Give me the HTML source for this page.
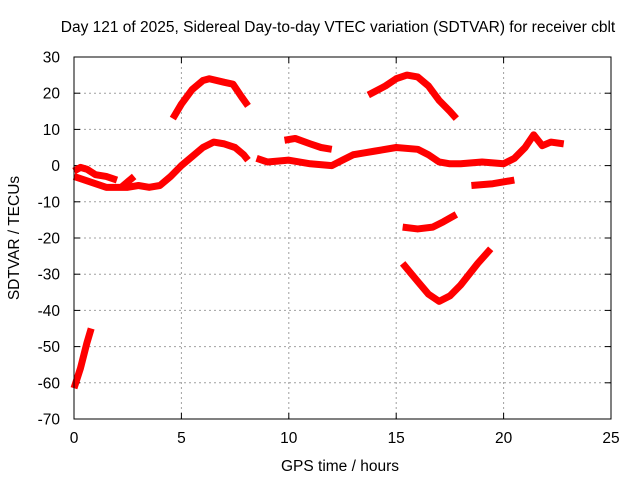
<!DOCTYPE html>
<html><head><meta charset="utf-8"><style>
body{margin:0;background:#fff;}
svg{display:block;font-family:"Liberation Sans",sans-serif;}
</style></head><body>
<svg id="chart" width="640" height="480">
<text x="338" y="32" text-anchor="middle" font-size="15.5">Day 121 of 2025, Sidereal Day-to-day VTEC variation (SDTVAR) for receiver cblt</text>
<text x="340" y="471" text-anchor="middle" font-size="15.5">GPS time / hours</text>
<text transform="translate(19,238) rotate(-90)" text-anchor="middle" font-size="15.5">SDTVAR / TECUs</text>
<g id="grid"></g><g id="marks"></g>
<rect x="74" y="57" width="537" height="362" fill="none" stroke="#000" stroke-width="1"/>
</svg>
<script>
const xTicks=[0,5,10,15,20,25];
const yTicks=[30,20,10,0,-10,-20,-30,-40,-50,-60,-70];
const seriesA=[[4.6,13],[5,17],[5.5,21],[6,23.5],[6.3,24],[7,23],[7.4,22.5],[7.8,19],[8.1,16.5]];
const seriesB=[[0,-3],[0.5,-4],[1,-5],[1.5,-6],[2,-6],[2.5,-6],[3,-5.5],[3.5,-6],[4,-5.5],[4.5,-3],[5,0],[5.5,2.5],[6,5],[6.5,6.5],[7,6],[7.5,5],[7.9,3],[8.1,1.5]];
const seriesB2=[[0,-1.5],[0.3,-0.5],[0.6,-1],[1,-2.5],[1.5,-3],[2,-4]];
const seriesSpike=[[2.2,-6],[2.8,-3]];
const seriesC=[[8.5,2],[9,1],[10,1.5],[11,0.5],[12,0],[12.5,1.5],[13,3],[13.5,3.5],[14,4],[15,5],[16,4.5],[16.5,3],[17,1],[17.5,0.5],[18,0.5],[19,1],[20,0.5],[20.5,2],[21,5],[21.4,8.5],[21.8,5.5],[22.2,6.5],[22.8,6]];
const seriesD=[[9.8,7],[10.3,7.5],[11,6],[11.5,5],[12,4.5]];
const seriesE=[[13.7,19.5],[14.5,22],[15,24],[15.5,25],[16,24.5],[16.5,22],[17,18],[17.5,15],[17.8,13]];
const seriesF=[[15.3,-17],[16,-17.5],[16.7,-17],[17.2,-15.5],[17.8,-13.5]];
const seriesG=[[18.5,-5.5],[19.5,-5],[20.5,-4]];
const seriesH=[[15.3,-27],[16,-32],[16.5,-35.5],[17,-37.5],[17.5,-36],[18,-33],[18.8,-27],[19.4,-23]];
const seriesI=[[0,-61.5],[0.3,-56],[0.6,-49],[0.8,-45]];
const allSeries=[seriesA,seriesB,seriesB2,seriesSpike,seriesC,seriesD,seriesE,seriesF,seriesG,seriesH,seriesI];
const X0=74,X1=611,Y0=57,Y1=419;
function sx(v){return X0+(v-0)/25*(X1-X0);}
function sy(v){return Y0+(30-v)/100*(Y1-Y0);}
const NS="http://www.w3.org/2000/svg";
const grid=document.getElementById('grid'),marks=document.getElementById('marks');
function mk(tag,attrs,parent){const e=document.createElementNS(NS,tag);for(const k in attrs)e.setAttribute(k,attrs[k]);parent.appendChild(e);return e;}
xTicks.forEach(t=>{const x=sx(t);
 if(t>0&&t<25){const l=mk('line',{x1:x,x2:x,y1:Y0,y2:Y1,stroke:'#a0a0a0','stroke-dasharray':'2,3'},grid);
 
 }
 mk('line',{x1:x,x2:x,y1:Y1,y2:Y1-6,stroke:'#000'},grid);
 mk('line',{x1:x,x2:x,y1:Y0,y2:Y0+6,stroke:'#000'},grid);
 const tx=mk('text',{x:x,y:Y1+24,'text-anchor':'middle','font-size':'15.5'},grid);tx.textContent=t;
 
 
});
yTicks.forEach(t=>{const y=sy(t);
 if(t<30&&t>-70){const l=mk('line',{x1:X0,x2:X1,y1:y,y2:y,stroke:'#a0a0a0','stroke-dasharray':'2,3'},grid);
 
 }
 mk('line',{x1:X0,x2:X0+6,y1:y,y2:y,stroke:'#000'},grid);
 mk('line',{x1:X1,x2:X1-6,y1:y,y2:y,stroke:'#000'},grid);
 const tx=mk('text',{x:X0-14,y:y+5.5,'text-anchor':'end','font-size':'15.5'},grid);tx.textContent=t;
 
 
});
allSeries.forEach((s,i)=>{
 const p=mk('polyline',{points:s.map(d=>sx(d[0])+','+sy(d[1])).join(' '),fill:'none',stroke:'#ff0000','stroke-width':'7','stroke-linejoin':'round','stroke-linecap':'butt'},marks);
 
 
});
</script>
</body></html>
